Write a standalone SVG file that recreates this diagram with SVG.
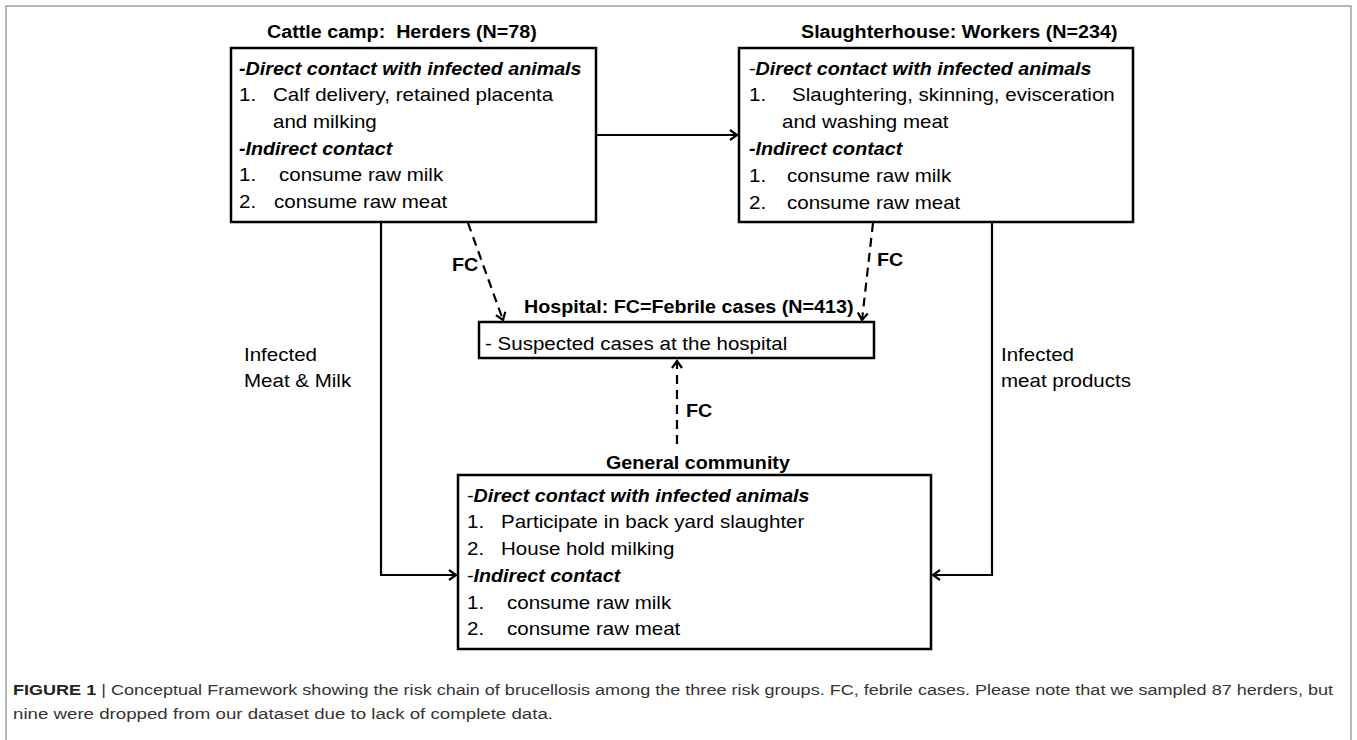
<svg xmlns="http://www.w3.org/2000/svg" width="1357" height="740" viewBox="0 0 1357 740">
<style>
text{font-family:"Liberation Sans",Arial,sans-serif;font-size:18px;fill:#000;white-space:pre}
.b{font-weight:bold}
.bi{font-weight:bold;font-style:italic}
.box{fill:#fff;stroke:#000;stroke-width:2.5}
.ln{fill:none;stroke:#000;stroke-width:2.2}
.dash{fill:none;stroke:#000;stroke-width:2.2;stroke-dasharray:9 6}
.cap{font-family:"Liberation Sans Narrow","Liberation Sans",Arial,sans-serif;font-size:15.5px;fill:#333}
</style>
<defs>
<marker id="ah" markerUnits="userSpaceOnUse" markerWidth="12" markerHeight="12" refX="10" refY="6" orient="auto">
<path d="M3,1 L10,6 L3,11" fill="none" stroke="#000" stroke-width="2.2"/>
</marker>
</defs>
<rect x="6" y="6" width="1345" height="740" fill="#fff" stroke="#888" stroke-width="1.2"/>

<g id="connectors">
<path class="ln" d="M596,135 H737" marker-end="url(#ah)"/>
<path class="ln" d="M381,222 V575 H456" marker-end="url(#ah)"/>
<path class="ln" d="M992,222 V575 H933" marker-end="url(#ah)"/>
<path class="dash" d="M468,223 L503,320" marker-end="url(#ah)"/>
<path class="dash" d="M873,223 L862,320" marker-end="url(#ah)"/>
<path class="dash" d="M677,444 V361" marker-end="url(#ah)"/>
<text class="b" transform="translate(452 271) scale(1.095 1)">FC</text>
<text class="b" transform="translate(877 266) scale(1.095 1)">FC</text>
<text class="b" transform="translate(686 417) scale(1.095 1)">FC</text>
<text transform="translate(244 361) scale(1.14 1)">Infected</text>
<text transform="translate(244 387) scale(1.14 1)">Meat &amp; Milk</text>
<text transform="translate(1001 361) scale(1.14 1)">Infected</text>
<text transform="translate(1001 387) scale(1.14 1)">meat products</text>
</g>

<g id="herders">
<text class="b" transform="translate(267 38) scale(1.095 1)">Cattle camp:  Herders (N=78)</text>
<rect class="box" x="231" y="48" width="365" height="174"/>
<text class="bi" transform="translate(239 75) scale(1.095 1)">-Direct contact with infected animals</text>
<text transform="translate(239 101) scale(1.14 1)">1.</text>
<text transform="translate(273 101) scale(1.14 1)">Calf delivery, retained placenta</text>
<text transform="translate(273 128) scale(1.14 1)">and milking</text>
<text class="bi" transform="translate(239 155) scale(1.095 1)">-Indirect contact</text>
<text transform="translate(239 181) scale(1.14 1)">1.</text>
<text transform="translate(279 181) scale(1.14 1)">consume raw milk</text>
<text transform="translate(239 208) scale(1.14 1)">2.</text>
<text transform="translate(274 208) scale(1.14 1)">consume raw meat</text>
</g>

<g id="slaughterhouse">
<text class="b" transform="translate(801 38) scale(1.095 1)">Slaughterhouse: Workers (N=234)</text>
<rect class="box" x="739" y="48" width="394" height="174"/>
<text transform="translate(749 75) scale(1.095 1)">-<tspan class="bi">Direct contact with infected animals</tspan></text>
<text transform="translate(749 101) scale(1.14 1)">1.</text>
<text transform="translate(792 101) scale(1.14 1)">Slaughtering, skinning, evisceration</text>
<text transform="translate(782 128) scale(1.14 1)">and washing meat</text>
<text class="bi" transform="translate(749 155) scale(1.095 1)">-Indirect contact</text>
<text transform="translate(749 182) scale(1.14 1)">1.</text>
<text transform="translate(787 182) scale(1.14 1)">consume raw milk</text>
<text transform="translate(749 209) scale(1.14 1)">2.</text>
<text transform="translate(787 209) scale(1.14 1)">consume raw meat</text>
</g>

<g id="hospital">
<text class="b" transform="translate(524 313) scale(1.095 1)">Hospital: FC=Febrile cases (N=413)</text>
<rect class="box" x="479" y="322" width="395" height="36"/>
<text transform="translate(485 350) scale(1.14 1)">- Suspected cases at the hospital</text>
</g>

<g id="community">
<text class="b" transform="translate(606 469) scale(1.095 1)">General community</text>
<rect class="box" x="458" y="475" width="473" height="174"/>
<text transform="translate(467 502) scale(1.095 1)">-<tspan class="bi">Direct contact with infected animals</tspan></text>
<text transform="translate(467 528) scale(1.14 1)">1.</text>
<text transform="translate(501 528) scale(1.14 1)">Participate in back yard slaughter</text>
<text transform="translate(467 555) scale(1.14 1)">2.</text>
<text transform="translate(501 555) scale(1.14 1)">House hold milking</text>
<text transform="translate(467 582) scale(1.095 1)">-<tspan class="bi">Indirect contact</tspan></text>
<text transform="translate(467 609) scale(1.14 1)">1.</text>
<text transform="translate(507 609) scale(1.14 1)">consume raw milk</text>
<text transform="translate(467 635) scale(1.14 1)">2.</text>
<text transform="translate(507 635) scale(1.14 1)">consume raw meat</text>
</g>

<g id="caption">
<text class="cap" x="13" y="695" textLength="1320" lengthAdjust="spacingAndGlyphs"><tspan font-weight="bold" fill="#222">FIGURE 1</tspan> | Conceptual Framework showing the risk chain of brucellosis among the three risk groups. FC, febrile cases. Please note that we sampled 87 herders, but</text>
<text class="cap" x="13" y="719" textLength="540" lengthAdjust="spacingAndGlyphs">nine were dropped from our dataset due to lack of complete data.</text>
</g>
</svg>
